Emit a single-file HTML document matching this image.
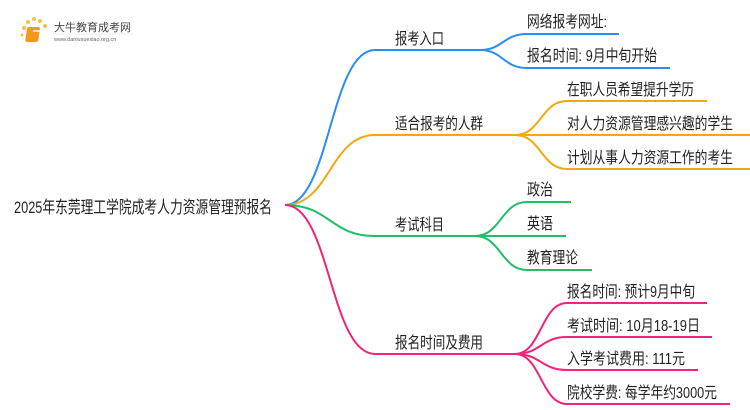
<!DOCTYPE html>
<html><head><meta charset="utf-8"><style>
html,body{margin:0;padding:0;background:#fff;}
svg{display:block;}
text{font-family:"Liberation Sans","Noto Sans CJK SC",sans-serif;fill:#222;}
</style></head><body>
<svg width="750" height="410" viewBox="0 0 750 410" xmlns="http://www.w3.org/2000/svg">
<g>
<circle cx="24" cy="28" r="2" fill="#f6c04a"/><circle cx="28" cy="22" r="2" fill="#f6c04a"/><circle cx="34" cy="19" r="2" fill="#f6c04a"/><circle cx="40" cy="21" r="2" fill="#f6c04a"/><circle cx="45" cy="26" r="2" fill="#f6c04a"/><circle cx="22" cy="35" r="1.5" fill="#f6c04a"/>
<rect x="31" y="27" width="13" height="15" rx="2" fill="#f39a1e" transform="skewX(-8)"/>
<rect x="33" y="30" width="8" height="2" fill="#fff" opacity=".7"/>
<text x="54" y="31" font-size="11" style="fill:#444">大牛教育成考网</text>
<line x1="53" y1="34" x2="133" y2="34" stroke="#ddd" stroke-width="0.6"/>
<text x="54" y="41" font-size="5.5" style="fill:#666">www.daniuxuexiao.org.cn</text>
</g>
<g fill="none" stroke-width="2">
<path d="M285 205 C330 205 330 50 375 50 L480 50" stroke="#2b8cf2"/>
<path d="M285 205 C330 205 330 135 375 135 L515 135" stroke="#f5a712"/>
<path d="M285 205 C330 205 330 236 375 236 L475 236" stroke="#1fbf6a"/>
<path d="M285 205 C330 205 330 354 375 354 L515 354" stroke="#f0247a"/>
<path d="M480 50 C503 50 503 34 527 34 L619 34" stroke="#2b8cf2"/>
<path d="M480 50 C503 50 503 68 527 68 L670 68" stroke="#2b8cf2"/>
<path d="M515 135 C541 135 541 101 567 101 L707 101" stroke="#f5a712"/>
<path d="M515 135 L750 135" stroke="#f5a712"/>
<path d="M515 135 C541 135 541 169 567 169 L750 169" stroke="#f5a712"/>
<path d="M475 236 C501 236 501 202 527 202 L571 202" stroke="#1fbf6a"/>
<path d="M475 236 L566 236" stroke="#1fbf6a"/>
<path d="M475 236 C501 236 501 270 527 270 L592 270" stroke="#1fbf6a"/>
<path d="M515 354 C541 354 541 303 567 303 L707 303" stroke="#f0247a"/>
<path d="M515 354 C541 354 541 337 567 337 L712 337" stroke="#f0247a"/>
<path d="M515 354 C541 354 541 370 567 370 L698 370" stroke="#f0247a"/>
<path d="M515 354 C541 354 541 404 567 404 L730 404" stroke="#f0247a"/>
</g>
<g font-size="16">
<text x="14" y="213" font-size="17" textLength="258" lengthAdjust="spacingAndGlyphs">2025年东莞理工学院成考人力资源管理预报名</text>
<text x="395" y="44" textLength="49" lengthAdjust="spacingAndGlyphs">报考入口</text>
<text x="395" y="129" textLength="88" lengthAdjust="spacingAndGlyphs">适合报考的人群</text>
<text x="395" y="230" textLength="49" lengthAdjust="spacingAndGlyphs">考试科目</text>
<text x="395" y="348" textLength="88" lengthAdjust="spacingAndGlyphs">报名时间及费用</text>
<text x="527" y="27" textLength="80" lengthAdjust="spacingAndGlyphs">网络报考网址:</text>
<text x="527" y="61" textLength="130" lengthAdjust="spacingAndGlyphs">报名时间: 9月中旬开始</text>
<text x="567" y="95" textLength="127" lengthAdjust="spacingAndGlyphs">在职人员希望提升学历</text>
<text x="567" y="129" textLength="166" lengthAdjust="spacingAndGlyphs">对人力资源管理感兴趣的学生</text>
<text x="567" y="163" textLength="166" lengthAdjust="spacingAndGlyphs">计划从事人力资源工作的考生</text>
<text x="527" y="195" textLength="26" lengthAdjust="spacingAndGlyphs">政治</text>
<text x="527" y="229" textLength="26" lengthAdjust="spacingAndGlyphs">英语</text>
<text x="527" y="263" textLength="51" lengthAdjust="spacingAndGlyphs">教育理论</text>
<text x="567" y="297" textLength="128" lengthAdjust="spacingAndGlyphs">报名时间: 预计9月中旬</text>
<text x="567" y="331" textLength="133" lengthAdjust="spacingAndGlyphs">考试时间: 10月18-19日</text>
<text x="567" y="364" textLength="118" lengthAdjust="spacingAndGlyphs">入学考试费用: 111元</text>
<text x="567" y="398" textLength="150" lengthAdjust="spacingAndGlyphs">院校学费: 每学年约3000元</text>
</g>
</svg>
</body></html>
